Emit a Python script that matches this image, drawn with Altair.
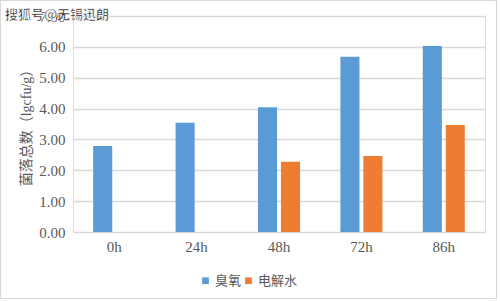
import altair as alt
import pandas as pd

times = ["0h", "24h", "48h", "72h", "86h"]
ozone = [2.79, 3.54, 4.04, 5.68, 6.03]
water_times = ["48h", "72h", "86h"]
water = [2.28, 2.46, 3.47]
series = ["臭氧", "电解水"]
colors = ["#5B9BD5", "#ED7D31"]
watermark = "搜狐号@无锡迅朗"

rows = [{"t": t, "s": series[0], "v": v} for t, v in zip(times, ozone)]
rows += [{"t": t, "s": series[1], "v": v} for t, v in zip(water_times, water)]
df = pd.DataFrame(rows)

W, H = 412, 216
font_serif = "Liberation Serif, Noto Sans CJK SC"
gray = "#595959"

bars = alt.Chart(df).mark_bar().encode(
    x=alt.X("t:N", sort=times, title=None,
            scale=alt.Scale(paddingInner=0.49, paddingOuter=0.245),
            axis=alt.Axis(labelAngle=0, labelFont=font_serif, labelFontSize=15,
                          labelColor=gray, ticks=False, domain=False, labelPadding=7)),
    xOffset=alt.XOffset("s:N", sort=series, scale=alt.Scale(paddingInner=0.17, paddingOuter=0)),
    y=alt.Y("v:Q", title="菌落总数（lgcfu/g）",
            scale=alt.Scale(domain=[0, 7], nice=False),
            axis=alt.Axis(values=[0, 1, 2, 3, 4, 5, 6, 7], format=".2f",
                          labelFont=font_serif, labelFontSize=15, labelColor=gray,
                          ticks=False, domain=False, labelPadding=8,
                          gridColor="#D9D9D9", gridWidth=1.3,
                          titleFont=font_serif, titleFontSize=14, titleColor=gray,
                          titleFontWeight="normal", titlePadding=5)),
    color=alt.Color("s:N", sort=series,
                    scale=alt.Scale(domain=series, range=colors),
                    legend=alt.Legend(title=None, orient="none", direction="horizontal",
                                      legendX=126, legendY=258, symbolType="square",
                                      symbolSize=45, symbolStrokeWidth=0,
                                      labelFont=font_serif, labelFontSize=13,
                                      labelColor=gray, columnPadding=-4, labelOffset=3)),
)

frame = alt.Chart(pd.DataFrame({"a": [0]})).mark_rect(
    fill=None, stroke="#D9D9D9", strokeWidth=1.2
).encode(x=alt.value(-72.5), x2=alt.value(423.5), y=alt.value(-15.5), y2=alt.value(282.5))

wm = alt.Chart(pd.DataFrame({"txt": [watermark]})).mark_text(
    align="left", baseline="middle", fontSize=13, color="#222222",
    stroke="white", strokeWidth=0.6, font="Noto Sans CJK SC", fontWeight="bold"
).encode(text="txt:N", x=alt.value(-68), y=alt.value(-1))

chart = alt.layer(frame, bars, wm).properties(
    width=W, height=H,
    autosize=alt.AutoSizeParams(type="none"),
    padding={"left": 73, "top": 16, "right": 15, "bottom": 69},
).configure_view(stroke=None).configure(background="white")

chart.save("out.html", embed_options={"renderer": "svg", "actions": False})
